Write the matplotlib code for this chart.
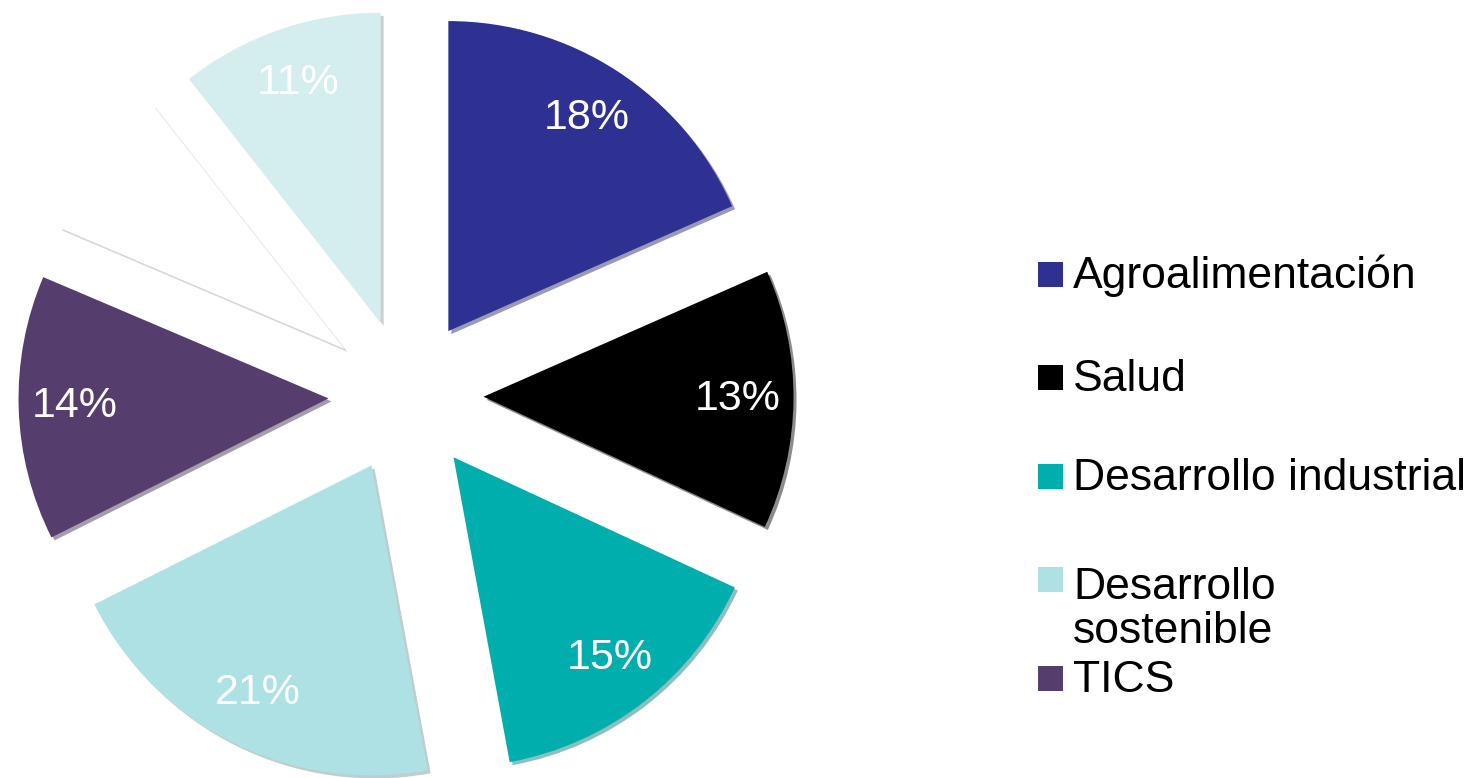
import matplotlib
matplotlib.use("Agg")
import matplotlib.pyplot as plt
from matplotlib.patches import Rectangle

# ---- data ----
slice_values = [18.4, 13.5, 15.2, 20.5, 13.8, 8.0, 10.6]
slice_labels = ['18%', '13%', '15%', '21%', '14%', '', '11%']
slice_colors = ['#2E3192', '#000000', '#00AEAE', '#ADE1E3', '#553D6E', '#FFFFFF', '#D4EDEF']
legend_labels = ['Agroalimentación', 'Salud', 'Desarrollo industrial', 'Desarrollo\nsostenible', 'TICS']
legend_colors = ['#2E3192', '#000000', '#00AEAE', '#ADE1E3', '#553D6E']

W, H = 1468, 778
fig = plt.figure(figsize=(W / 100, H / 100), dpi=100)
ax = fig.add_axes([0, 0, 1, 1])

R = 310.0  # px per unit radius
cx, cy = 406.0, 396.0  # pie centre (px, from top)

explode = [0.25] * len(slice_values)
wedges, texts = ax.pie(
    slice_values, labels=slice_labels, colors=slice_colors,
    startangle=90, counterclock=False, explode=explode,
    labeldistance=0.82,
    shadow={'ox': 0.007, 'oy': -0.007, 'shade': 0.35, 'alpha': 0.45},
    textprops={'color': 'white', 'fontsize': 31, 'family': 'Liberation Sans'},
    wedgeprops={'linewidth': 0},
)
for t in texts:
    t.set_horizontalalignment('center')
    t.set_verticalalignment('center')

ax.set_xlim(-cx / R, (W - cx) / R)
ax.set_ylim(-(H - cy) / R, cy / R)
ax.set_aspect('auto')
ax.axis('off')

# ---- legend (manual) ----
sq_x, sq_size = 1038, 25
baselines = [288, 391, 490, 593, 692]
for lab, col, yb in zip(legend_labels, legend_colors, baselines):
    fig.patches.append(Rectangle((sq_x / W, 1 - (yb - 1) / H), sq_size / W, sq_size / H,
                                 transform=fig.transFigure, facecolor=col,
                                 edgecolor='none'))
    nlines = lab.count('\n')
    fig.text(1073 / W, 1 - (yb + 50 * nlines) / H, lab, fontsize=32,
             family='Liberation Sans', color='black', ha='left', va='baseline',
             linespacing=1.08)

fig.savefig('out.png', dpi=100)
